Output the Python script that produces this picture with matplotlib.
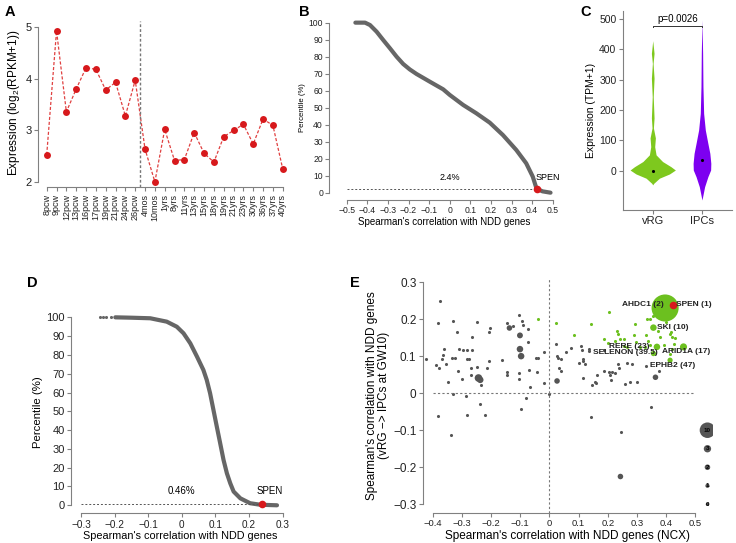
import matplotlib
matplotlib.use("Agg")
import matplotlib.pyplot as plt

plt.rcParams["font.family"] = ["Liberation Sans", "DejaVu Sans"]
plt.rcParams["mathtext.default"] = "regular"

W, H = 736, 543

# ---- panel A: expression across ages
ages = ["8pcw", "9pcw", "12pcw", "13pcw", "16pcw", "17pcw", "19pcw", "21pcw", "24pcw", "26pcw",
        "4mos", "10mos", "1yrs", "8yrs", "11yrs", "13yrs", "15yrs", "18yrs", "19yrs", "21yrs",
        "23yrs", "30yrs", "36yrs", "37yrs", "40yrs"]
expr = [2.53, 4.92, 3.36, 3.80, 4.21, 4.18, 3.78, 3.93, 3.28, 3.97,
        2.64, 2.01, 3.02, 2.42, 2.44, 2.96, 2.56, 2.39, 2.88, 3.00,
        3.12, 2.74, 3.22, 3.10, 2.26]

# ---- panel B: percentile curve (cortex)
b_x = [-0.458, -0.411, -0.387, -0.355, -0.323, -0.290, -0.258, -0.226, -0.194, -0.161,
       -0.097, -0.032, 0.0, 0.065, 0.129, 0.194, 0.258, 0.323, 0.371, 0.403, 0.421, 0.45, 0.489]
b_y = [100, 100, 98.6, 94.7, 89.8, 84.9, 80.0, 75.7, 72.5, 69.8,
       65.3, 60.8, 57.5, 51.6, 46.7, 41.2, 33.9, 25.1, 17.3, 9.4, 2.4, 0.8, 0.0]
b_spen = (0.421, 2.4)

# ---- panel C: violin outlines (value, half width)
vrg_val = [-47, -42, -25, -11, 2, 13, 30, 52, 79, 108, 141, 174, 244, 305, 354, 387, 429]
vrg_hw = [0, 0.02, 0.135, 0.34, 0.46, 0.37, 0.20, 0.068, 0.04, 0.054, 0.0135, 0.027, 0.01, 0.027, 0.007, 0.027, 0]
ipc_val = [-97, -75, -53, -20, 2, 24, 57, 90, 134, 189, 277, 387, 497]
ipc_hw = [0, 0.027, 0.054, 0.12, 0.176, 0.18, 0.16, 0.12, 0.068, 0.034, 0.02, 0.0135, 0]
groups = ["vRG", "IPCs"]
group_means = [0, 35]

# ---- panel D: percentile curve (second dataset)
d_x = [-0.198, -0.150, -0.094, -0.045, -0.015, 0.005, 0.025, 0.045, 0.064, 0.074, 0.084, 0.094,
       0.104, 0.114, 0.124, 0.134, 0.144, 0.154, 0.174, 0.203, 0.233, 0.283]
d_y = [100, 99.8, 99.5, 97.7, 95.0, 91.5, 86.2, 79.1, 72.0, 66.7, 59.6, 50.7,
       41.8, 33.0, 24.1, 17.0, 11.7, 7.3, 3.7, 1.1, 0.3, 0.0]
d_tail_x = [-0.243, -0.235, -0.227, -0.212]
d_spen = (0.238, 0.46)

# ---- panel E: scatter
gray_x = [-0.423, -0.375, -0.383, -0.389, -0.378, -0.380, -0.369, -0.364, -0.362, -0.354,
          -0.349, -0.337, -0.332, -0.329, -0.331, -0.322, -0.315, -0.314, -0.308, -0.300,
          -0.295, -0.287, -0.283, -0.281, -0.274, -0.281, -0.265, -0.268, -0.264, -0.268,
          -0.248, -0.249, -0.238, -0.233, -0.220, -0.214, -0.208, -0.206, -0.203, -0.162,
          -0.146, -0.145, -0.144, -0.126, -0.105, -0.105, -0.105, -0.097, -0.095, -0.091,
          -0.081, -0.074, -0.073, -0.070, -0.066, -0.047, -0.038, -0.041, -0.018, -0.017,
          -0.002, 0.021, 0.025, 0.030, 0.038, 0.034, 0.039, 0.058, 0.074, 0.101,
          0.108, 0.112, 0.114, 0.116, 0.116, 0.122, 0.134, 0.137, 0.143, 0.147,
          0.155, 0.160, 0.164, 0.188, 0.188, 0.203, 0.207, 0.210, 0.215, 0.225,
          0.234, 0.238, 0.246, 0.257, 0.264, 0.276, 0.282, 0.299, 0.331, 0.347, 0.375]
gray_y = [0.092, 0.250, 0.189, 0.076, 0.069, -0.061, 0.092, 0.103, 0.119, 0.080,
          0.029, -0.112, 0.096, 0.196, -0.002, 0.094, 0.165, 0.059, 0.118, 0.038,
          0.116, -0.008, -0.058, 0.092, 0.092, 0.116, 0.116, 0.069, 0.153, 0.049,
          0.193, 0.071, -0.028, 0.022, -0.058, 0.067, 0.088, 0.165, 0.177, 0.089,
          0.189, 0.056, 0.049, 0.181, 0.210, 0.054, 0.039, -0.044, 0.194, 0.183,
          -0.012, 0.172, 0.138, 0.062, 0.018, 0.095, 0.095, 0.057, 0.028, 0.112,
          -0.003, 0.132, 0.100, 0.094, 0.093, 0.069, 0.059, 0.111, 0.123, 0.081,
          0.128, 0.117, 0.093, 0.086, 0.040, 0.080, 0.120, 0.114, -0.065, 0.022,
          0.030, 0.027, 0.049, 0.059, 0.117, 0.058, 0.048, 0.035, 0.058, 0.055,
          0.079, 0.067, -0.106, 0.025, 0.082, 0.031, 0.078, 0.029, 0.074, -0.037, 0.059]
gray_big_x = [-0.243, -0.237, -0.137, -0.101, -0.101, -0.097, 0.026, 0.243, 0.363]
gray_big_y = [0.041, 0.036, 0.176, 0.156, 0.119, 0.100, 0.033, -0.225, 0.043]
gray_big_s = [30, 22, 16, 18, 22, 22, 16, 16, 16]
green_x = [-0.040, 0.022, 0.083, 0.143, 0.203, 0.188, 0.199, 0.223, 0.233, 0.236,
           0.242, 0.254, 0.254, 0.265, 0.291, 0.294, 0.296, 0.311, 0.326, 0.331,
           0.334, 0.343, 0.356, 0.339, 0.345, 0.373, 0.377, 0.391, 0.400, 0.413,
           0.416, 0.419, 0.431, 0.425, 0.419, 0.413]
green_y = [0.199, 0.190, 0.158, 0.188, 0.219, 0.147, 0.136, 0.141, 0.167, 0.161,
           0.146, 0.146, 0.127, 0.125, 0.156, 0.186, 0.139, 0.125, 0.126, 0.158,
           0.200, 0.200, 0.209, 0.140, 0.130, 0.168, 0.152, 0.130, 0.192, 0.159,
           0.166, 0.151, 0.149, 0.132, 0.120, 0.107]
genes = ["AHDC1 (2)", "SKI (10)", "RERE (23)", "SELENON (39.5)", "ARID1A (17)", "EPHB2 (47)", "SPEN (1)"]
gene_x = [0.396, 0.356, 0.368, 0.356, 0.459, 0.413, 0.423]
gene_y = [0.230, 0.177, 0.125, 0.107, 0.125, 0.089, 0.239]
gene_s = [380, 22, 22, 14, 26, 14, 30]
size_legend = ["10", "3", "2", "1", "0"]
size_legend_y = [-0.10, -0.15, -0.20, -0.25, -0.30]
size_legend_s = [125, 28, 16, 9, 6]

GRAY = "#555555"
AXC = "#808080"
RED = "#d7191c"
GREEN = "#6cc01f"


def box(l, t, r, b):
    return [l / W, 1 - b / H, (r - l) / W, (b - t) / H]


def rstyle(ax, fs_x, fs_y):
    for s in ["top", "right"]:
        ax.spines[s].set_visible(False)
    for s in ["left", "bottom"]:
        ax.spines[s].set_color(AXC)
        ax.spines[s].set_linewidth(0.8)
    ax.tick_params(colors=AXC, labelcolor="#222222", length=3, width=0.8, pad=1.5)
    ax.tick_params(axis="x", labelsize=fs_x)
    ax.tick_params(axis="y", labelsize=fs_y)


fig = plt.figure(figsize=(W / 100, H / 100), dpi=100)

# A
ax = fig.add_axes(box(38.3, 18, 290, 187.3))
xs = list(range(len(ages)))
ax.plot(xs, expr, color="#e04040", ls=(0, (2.5, 1.5)), lw=0.9)
ax.scatter(xs, expr, s=25, color=RED, zorder=3, linewidths=0)
ax.axvline(9.5, ymin=0, ymax=0.98, color="#777777", ls=(0, (2, 1.5)), lw=1.0, clip_on=False)
ax.set_xlim(-0.854, 24.74)
ax.set_ylim(1.904, 5.17)
rstyle(ax, 6.5, 8)
ax.spines["left"].set_bounds(2, 5)
ax.spines["bottom"].set_bounds(0, 24)
ax.set_yticks([2, 3, 4, 5])
ax.set_xticks(xs)
ax.set_xticklabels(ages, rotation=90)
ax.set_ylabel("Expression (log$_2$(RPKM+1))", fontsize=8.5, labelpad=3)

# B
ax = fig.add_axes(box(329.3, 15, 560, 200))
ax.plot(b_x, b_y, color="#666666", lw=3, solid_capstyle="round")
ax.plot([-0.5, b_spen[0]], [b_spen[1], b_spen[1]], color="#555555", ls=(0, (2, 2)), lw=0.7)
ax.scatter([b_spen[0]], [b_spen[1]], s=30, color=RED, zorder=3, linewidths=0)
ax.text(0.0, 6.5, "2.4%", fontsize=6.5, ha="center", va="bottom")
ax.text(0.475, 6.5, "SPEN", fontsize=6.5, ha="center", va="bottom")
ax.set_xlim(-0.5845, 0.535)
ax.set_ylim(-4.3, 104.5)
rstyle(ax, 6.2, 6.2)
ax.spines["left"].set_bounds(0, 100)
ax.spines["bottom"].set_bounds(-0.5, 0.5)
ax.set_yticks(range(0, 101, 10))
ax.set_xticks([-0.5, -0.4, -0.3, -0.2, -0.1, 0, 0.1, 0.2, 0.3, 0.4, 0.5])
ax.set_xticklabels(["\u22120.5", "\u22120.4", "\u22120.3", "\u22120.2", "\u22120.1", "0",
                    "0.1", "0.2", "0.3", "0.4", "0.5"])
ax.set_ylabel("Percentile (%)", fontsize=5.6, labelpad=2)
ax.set_xlabel("Spearman's correlation with NDD genes", fontsize=7, labelpad=1)

# C
ax = fig.add_axes(box(622.7, 10.7, 732, 210))
for i, (vals, hws, col) in enumerate([(vrg_val, vrg_hw, "#7ec81e"), (ipc_val, ipc_hw, "#7d00f0")]):
    c = i + 1
    ax.fill_betweenx(vals, [c - h for h in hws], [c + h for h in hws], color=col, lw=0)
    ax.scatter([c], [group_means[i]], s=5, color="black", zorder=3, linewidths=0)
ax.plot([1, 1, 2, 2], [475, 478, 478, 475], color="#333333", lw=0.7)
ax.text(1.5, 484, "p=0.0026", fontsize=7, ha="center", va="bottom")
ax.set_xlim(0.39, 2.61)
ax.set_ylim(-130, 528)
rstyle(ax, 8, 7.5)
ax.set_xticks([1, 2])
ax.set_xticklabels(groups)
ax.set_yticks(range(0, 501, 100))
ax.set_ylabel("Expression (TPM+1)", fontsize=7.5, labelpad=2)

# D
ax = fig.add_axes(box(71, 310, 290, 513.3))
ax.plot(d_x, d_y, color="#666666", lw=3, solid_capstyle="round")
ax.scatter(d_tail_x, [100] * len(d_tail_x), s=5, color="#666666", linewidths=0)
ax.plot([-0.3, d_spen[0]], [d_spen[1], d_spen[1]], color="#555555", ls=(0, (2, 2)), lw=0.7)
ax.scatter([d_spen[0]], [d_spen[1]], s=30, color=RED, zorder=3, linewidths=0)
ax.text(0.0, 5, "0.46%", fontsize=7, ha="center", va="bottom")
ax.text(0.26, 5, "SPEN", fontsize=7, ha="center", va="bottom")
ax.set_xlim(-0.3298, 0.3217)
ax.set_ylim(-4.26, 103.9)
rstyle(ax, 7.2, 8)
ax.spines["left"].set_bounds(0, 100)
ax.spines["bottom"].set_bounds(-0.3, 0.3)
ax.set_yticks(range(0, 101, 10))
ax.set_xticks([-0.3, -0.2, -0.1, 0, 0.1, 0.2, 0.3])
ax.set_xticklabels(["\u22120.3", "\u22120.2", "\u22120.1", "0", "0.1", "0.2", "0.3"])
ax.set_ylabel("Percentile (%)", fontsize=8.2, labelpad=2)
ax.set_xlabel("Spearman's correlation with NDD genes", fontsize=7.8, labelpad=1)

# E
ax = fig.add_axes(box(422.7, 278, 713, 513))
ax.plot([-0.4, 0.5], [0, 0], color="#777777", ls=(0, (2, 2)), lw=0.8)
ax.axvline(0, color="#777777", ls=(0, (2, 2)), lw=0.8)
ax.scatter(gray_x, gray_y, s=5, color=GRAY, linewidths=0)
ax.scatter(gray_big_x, gray_big_y, s=gray_big_s, color=GRAY, linewidths=0)
ax.scatter(green_x, green_y, s=5, color=GREEN, linewidths=0)
ax.scatter(gene_x[:-1], gene_y[:-1], s=gene_s[:-1], color=GREEN, linewidths=0)
ax.scatter(gene_x[-1:], gene_y[-1:], s=gene_s[-1:], color=RED, linewidths=0, zorder=3)
lab_pos = [(0.391, 0.239, "right"), (0.368, 0.177, "left"), (0.343, 0.127, "right"),
           (0.148, 0.110, "left"), (0.385, 0.113, "left"), (0.345, 0.074, "left"),
           (0.434, 0.239, "left")]
for g, (tx, ty, ha) in zip(genes, lab_pos):
    ax.text(tx, ty, g, fontsize=6, fontweight="bold", ha=ha, va="center", color="#222222", zorder=4)
ax.scatter([0.541] * len(size_legend), size_legend_y, s=size_legend_s, color=GRAY, linewidths=0)
for lab, ly in zip(size_legend, size_legend_y):
    ax.text(0.541, ly, lab, fontsize=4.5, fontweight="bold", ha="center", va="center", color="black")
ax.set_xlim(-0.434, 0.56)
ax.set_ylim(-0.3235, 0.311)
rstyle(ax, 6.8, 8.5)
ax.spines["left"].set_bounds(-0.3, 0.3)
ax.spines["bottom"].set_bounds(-0.4, 0.5)
ax.set_xticks([-0.4, -0.3, -0.2, -0.1, 0, 0.1, 0.2, 0.3, 0.4, 0.5])
ax.set_xticklabels(["\u22120.4", "\u22120.3", "\u22120.2", "\u22120.1", "0",
                    "0.1", "0.2", "0.3", "0.4", "0.5"])
ax.set_yticks([-0.3, -0.2, -0.1, 0, 0.1, 0.2, 0.3])
ax.set_yticklabels(["\u22120.3", "\u22120.2", "\u22120.1", "0", "0.1", "0.2", "0.3"])
ax.set_xlabel("Spearman's correlation with NDD genes (NCX)", fontsize=8.5, labelpad=1)
ax.set_ylabel("Spearman's correlation with NDD genes\n(vRG \u2212> IPCs at GW10)", fontsize=8.5,
              labelpad=2, linespacing=1.0)

# panel letters
for letter, x, y in [("A", 5, 12), ("B", 299, 12), ("C", 580, 12), ("D", 27, 283), ("E", 350, 283)]:
    fig.text(x / W, 1 - y / H, letter, fontsize=10.5, fontweight="bold", va="center", ha="left")

fig.savefig("out.png", dpi=100)
